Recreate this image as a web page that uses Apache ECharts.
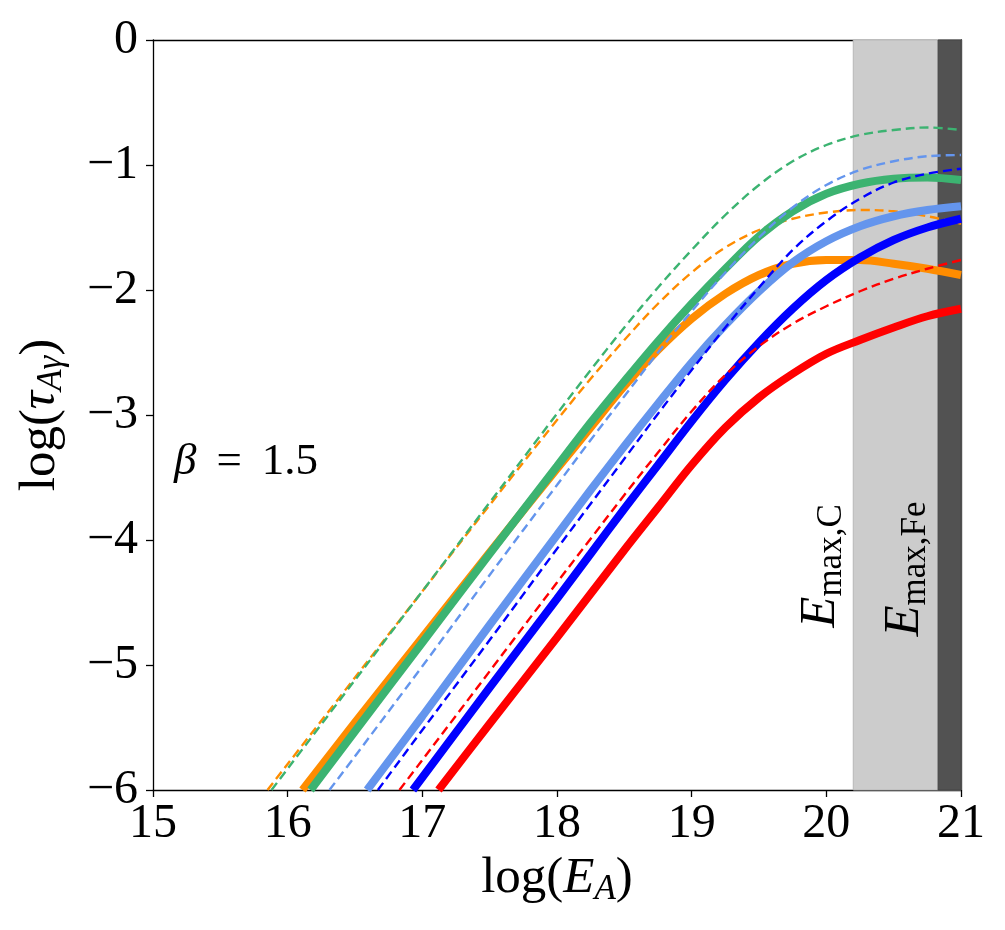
<!DOCTYPE html>
<html>
<head>
<meta charset="utf-8">
<script src="https://cdn.jsdelivr.net/npm/echarts@6/dist/echarts.min.js"></script>
<style>
html,body{margin:0;padding:0;background:#fff;}
#chart{width:1005px;height:930px;}
</style>
</head>
<body>
<div id="chart"></div>
<script>
// ---- data (log E_A, log tau) ----
const xTicks = [15, 16, 17, 18, 19, 20, 21];
const yTicks = [0, -1, -2, -3, -4, -5, -6];

// orange
const xOrangeSolid = [16.11, 16.5, 17, 17.5, 18, 18.25, 18.5, 18.75, 19, 19.25, 19.5, 19.75, 20, 20.25, 20.5, 20.75, 21];
const yOrangeSolid = [-6, -5.46, -4.78, -4.1, -3.43, -3.1, -2.77, -2.48, -2.23, -2.03, -1.88, -1.79, -1.76, -1.76, -1.79, -1.83, -1.88];
const xOrangeDash = [15.85, 16.5, 17, 17.5, 18, 18.25, 18.5, 18.75, 19, 19.25, 19.5, 19.75, 20, 20.25, 20.5, 20.75, 21];
const yOrangeDash = [-6, -5.1, -4.41, -3.72, -3.04, -2.71, -2.4, -2.11, -1.86, -1.66, -1.52, -1.43, -1.38, -1.36, -1.37, -1.41, -1.47];

// green
const xGreenSolid = [16.17, 16.5, 17, 17.5, 18, 18.25, 18.5, 18.75, 19, 19.25, 19.5, 19.75, 20, 20.25, 20.5, 20.75, 21];
const yGreenSolid = [-6, -5.53, -4.82, -4.11, -3.41, -3.06, -2.73, -2.41, -2.11, -1.83, -1.57, -1.37, -1.23, -1.15, -1.11, -1.1, -1.12];
const xGreenDash = [15.88, 16.5, 17, 17.5, 18, 18.25, 18.5, 18.75, 19, 19.25, 19.5, 19.75, 20, 20.25, 20.5, 20.75, 21];
const yGreenDash = [-6, -5.12, -4.41, -3.7, -2.99, -2.64, -2.3, -1.98, -1.68, -1.4, -1.16, -0.97, -0.84, -0.76, -0.72, -0.7, -0.72];

// light blue
const xLightSolid = [16.59, 17, 17.5, 18, 18.25, 18.5, 18.75, 19, 19.25, 19.5, 19.75, 20, 20.25, 20.5, 20.75, 21];
const yLightSolid = [-6, -5.41, -4.68, -3.96, -3.6, -3.25, -2.91, -2.58, -2.28, -2.01, -1.78, -1.61, -1.49, -1.41, -1.36, -1.33];
const xLightDash = [16.31, 16.5, 17, 17.5, 18, 18.25, 18.5, 18.75, 19, 19.25, 19.5, 19.75, 20, 20.25, 20.5, 20.75, 21];
const yLightDash = [-6, -5.73, -5.01, -4.28, -3.56, -3.2, -2.85, -2.5, -2.17, -1.86, -1.58, -1.34, -1.16, -1.04, -0.97, -0.93, -0.92];

// blue
const xBlueSolid = [16.93, 17.5, 18, 18.25, 18.5, 18.75, 19, 19.25, 19.5, 19.75, 20, 20.25, 20.5, 20.75, 21];
const yBlueSolid = [-6, -5.18, -4.47, -4.11, -3.75, -3.4, -3.05, -2.72, -2.42, -2.15, -1.92, -1.74, -1.6, -1.5, -1.43];
const xBlueDash = [16.67, 17, 17.5, 18, 18.25, 18.5, 18.75, 19, 19.25, 19.5, 19.75, 20, 20.25, 20.5, 20.75, 21];
const yBlueDash = [-6, -5.52, -4.8, -4.07, -3.71, -3.35, -2.99, -2.64, -2.3, -1.98, -1.68, -1.45, -1.27, -1.14, -1.07, -1.03];

// red
const xRedSolid = [17.12, 17.5, 18, 18.5, 18.75, 19, 19.25, 19.5, 19.75, 20, 20.25, 20.5, 20.75, 21];
const yRedSolid = [-6, -5.47, -4.78, -4.08, -3.74, -3.4, -3.1, -2.86, -2.67, -2.51, -2.4, -2.3, -2.21, -2.15];
const xRedDash = [16.83, 17, 17.5, 18, 18.25, 18.5, 18.75, 19, 19.25, 19.5, 19.75, 20, 20.25, 20.5, 20.75, 21];
const yRedDash = [-6, -5.76, -5.05, -4.34, -3.99, -3.64, -3.3, -2.97, -2.68, -2.45, -2.27, -2.13, -2.01, -1.91, -1.83, -1.76];

// shaded bands: E_max,C and E_max,Fe
const bandC = [20.2, 21];
const bandFe = [20.83, 21];

const FONT = "'Liberation Serif', 'DejaVu Serif', serif";
const zip = (xs, ys) => xs.map((x, i) => [x, ys[i]]);
const minus = v => (v < 0 ? '\u2212' + Math.abs(v) : String(v));

function line(name, xs, ys, color, dashed) {
  return {
    name, type: 'line', data: zip(xs, ys), showSymbol: false,
    smooth: 0.35,
    clip: true, z: 3,
    lineStyle: dashed ? { color, width: 2.4, type: [9, 5] } : { color, width: 8 },
    emphasis: { disabled: true }
  };
}

const chart = echarts.init(document.getElementById('chart'), null, { renderer: 'canvas' });
const axisLabelStyle = { fontFamily: FONT, fontSize: 48, color: '#000' };
const subRich = {
  n: { fontFamily: FONT, fontSize: 51, color: '#000' },
  i: { fontFamily: FONT, fontSize: 51, fontStyle: 'italic', color: '#000' },
  s: { fontFamily: FONT, fontSize: 35, fontStyle: 'italic', color: '#000', verticalAlign: 'bottom', padding: [22, 0, 0, 0] }
};
const labelRich = {
  i: { fontFamily: FONT, fontSize: 51, fontStyle: 'italic', fill: '#000' },
  s: { fontFamily: FONT, fontSize: 35, fill: '#000', verticalAlign: 'bottom', padding: [22, 0, 0, 0] }
};

chart.setOption({
  animation: false,
  backgroundColor: '#fff',
  grid: { left: 153, top: 40, width: 808, height: 750, containLabel: false },
  xAxis: [{
    type: 'value', min: 15, max: 21, interval: 1,
    axisLine: { show: true, onZero: false, lineStyle: { color: '#000', width: 1.3 } },
    axisTick: { show: true, inside: false, length: 7, lineStyle: { color: '#000', width: 1.3 } },
    splitLine: { show: false },
    axisLabel: Object.assign({ margin: 10, formatter: v => String(v) }, axisLabelStyle),
    name: '{n|log(}{i|E}{s|A}{n|)}', nameLocation: 'middle', nameGap: 56,
    nameTextStyle: { rich: subRich }
  }, {
    type: 'value', position: 'top', min: 15, max: 21,
    axisLine: { show: true, onZero: false, lineStyle: { color: '#000', width: 1.3 } },
    axisTick: { show: false }, axisLabel: { show: false }, splitLine: { show: false }
  }],
  yAxis: [{
    type: 'value', min: -6, max: 0, interval: 1,
    axisLine: { show: true, onZero: false, lineStyle: { color: '#000', width: 1.3 } },
    axisTick: { show: true, inside: false, length: 7, lineStyle: { color: '#000', width: 1.3 } },
    splitLine: { show: false },
    axisLabel: Object.assign({ margin: 15, formatter: minus }, axisLabelStyle),
    name: '{n|log(}{i|τ}{s|Aγ}{n|)}', nameLocation: 'middle', nameGap: 84,
    nameTextStyle: { rich: subRich }
  }, {
    type: 'value', position: 'right', min: -6, max: 0,
    axisLine: { show: true, onZero: false, lineStyle: { color: '#000', width: 1.3 } },
    axisTick: { show: false }, axisLabel: { show: false }, splitLine: { show: false }
  }],
  series: [
    {
      type: 'line', data: [], z: 1, silent: true,
      markArea: {
        silent: true,
        data: [
          [{ xAxis: bandC[0], itemStyle: { color: '#cccccc', borderColor: '#b8b8b8', borderWidth: 1 } }, { xAxis: bandC[1] }],
          [{ xAxis: bandFe[0], itemStyle: { color: '#525252', borderColor: '#444', borderWidth: 1 } }, { xAxis: bandFe[1] }]
        ]
      }
    },
    line('orange solid', xOrangeSolid, yOrangeSolid, '#ff8c00', false),
    line('orange dashed', xOrangeDash, yOrangeDash, '#ff8c00', true),
    line('green solid', xGreenSolid, yGreenSolid, '#3cb371', false),
    line('green dashed', xGreenDash, yGreenDash, '#3cb371', true),
    line('lightblue solid', xLightSolid, yLightSolid, '#6495ed', false),
    line('lightblue dashed', xLightDash, yLightDash, '#6495ed', true),
    line('blue solid', xBlueSolid, yBlueSolid, '#0000ff', false),
    line('blue dashed', xBlueDash, yBlueDash, '#0000ff', true),
    line('red solid', xRedSolid, yRedSolid, '#ff0000', false),
    line('red dashed', xRedDash, yRedDash, '#ff0000', true)
  ],
  graphic: [
    {
      type: 'text', left: 174, top: 440, z: 10,
      style: {
        text: '{i|β}{n|=}{m|1.5}',
        rich: {
          i: { fontFamily: FONT, fontSize: 45, fontStyle: 'italic', fill: '#000', padding: [0, 20, 0, 0] },
          n: { fontFamily: FONT, fontSize: 45, fill: '#000', padding: [0, 20, 0, 0] },
          m: { fontFamily: FONT, fontSize: 45, fill: '#000' }
        }
      }
    },
    {
      type: 'text', x: 821, y: 566, rotation: Math.PI / 2, z: 10,
      style: { text: '{i|E}{s|max,C}', align: 'center', verticalAlign: 'middle', rich: labelRich }
    },
    {
      type: 'text', x: 905, y: 569, rotation: Math.PI / 2, z: 10,
      style: { text: '{i|E}{s|max,Fe}', align: 'center', verticalAlign: 'middle', rich: labelRich }
    }
  ]
});
</script>
</body>
</html>
